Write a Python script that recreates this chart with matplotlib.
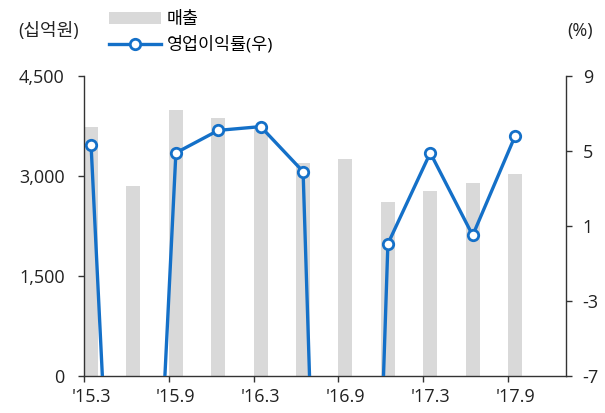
import numpy as np
import matplotlib
matplotlib.use("Agg")
import matplotlib.pyplot as plt
from matplotlib.patches import Patch
from matplotlib.lines import Line2D

plt.rcParams['font.family'] = ['Open Sans', 'Noto Sans CJK KR', 'DejaVu Sans']
plt.rcParams['axes.unicode_minus'] = False

quarters = ["'15.3", "'15.6", "'15.9", "'15.12", "'16.3", "'16.6",
            "'16.9", "'16.12", "'17.3", "'17.6", "'17.9"]
sales = [3740, 2850, 3990, 3870, 3720, 3200, 3255, 2605, 2775, 2890, 3030]
op_margin = [5.3, -41, 4.9, 6.1, 6.3, 3.9, -68, 0.05, 4.9, 0.5, 5.8]

bar_color = '#d9d9d9'
line_color = '#1470c8'
axis_color = '#333333'
text_color = '#222222'

fig = plt.figure(figsize=(6.05, 4.13), dpi=100)
ax = fig.add_axes([0.139, 0.0896, 0.7965, 0.7264])
x = np.arange(len(quarters))

ax.bar(x, sales, width=0.33, color=bar_color, zorder=1)
ax.set_ylim(0, 4500)
ax.set_yticks([0, 1500, 3000, 4500])
ax.set_yticklabels(['0', '1,500', '3,000', '4,500'])
ax.set_xlim(-0.165, 11.2)
# tick marks at the bar edges, labels centred under the bars
ax.set_xticks(x[::2] - 0.165)
ax.set_xticklabels([])
ax.set_xticks(x[::2], minor=True)
ax.set_xticklabels(quarters[::2], minor=True)

ax2 = ax.twinx()
ax2.plot(x, op_margin, color=line_color, lw=2.4, marker='o', ms=7.5,
         mfc='white', mec=line_color, mew=2, zorder=3)
ax2.set_ylim(-7, 9)
ax2.set_yticks([-7, -3, 1, 5, 9])

for a in (ax, ax2):
    a.spines['top'].set_visible(False)
    for s in ('left', 'right', 'bottom'):
        a.spines[s].set_color(axis_color)
        a.spines[s].set_linewidth(1)
    a.tick_params(direction='out', length=4, width=1, color=axis_color,
                  labelsize=13, labelcolor=text_color)
ax.spines['right'].set_visible(False)
ax2.spines['left'].set_visible(False)
ax2.spines['bottom'].set_visible(False)
ax.tick_params(axis='y', pad=10)
ax2.tick_params(axis='y', pad=8)
ax.tick_params(axis='x', which='minor', length=0, pad=9, labelsize=13,
               labelcolor=text_color)

fig.text(0.03, 0.925, '(십억원)', fontsize=13, color=text_color, va='center')
fig.text(0.937, 0.925, '(%)', fontsize=13, color=text_color, va='center')

handles = [Patch(facecolor=bar_color, edgecolor='none'),
           Line2D([0], [0], color=line_color, lw=2.4, marker='o', ms=7.5,
                  mfc='white', mec=line_color, mew=2)]
fig.legend(handles, ['매출', '영업이익률(우)'], loc='upper left',
           bbox_to_anchor=(0.169, 0.988), frameon=False, fontsize=12.5,
           handlelength=3.0, handleheight=0.7, handletextpad=0.3,
           labelspacing=0.47, borderaxespad=0)

fig.savefig('out.png', dpi=100)
